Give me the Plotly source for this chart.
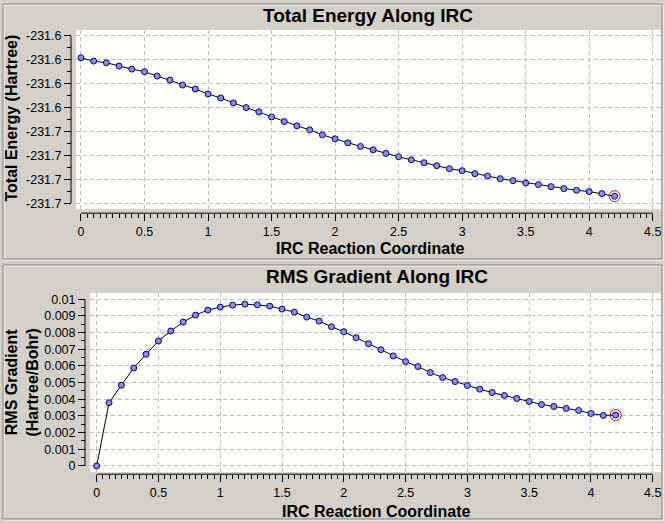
import numpy as np
import plotly.graph_objects as go

# IRC points (reaction coordinate)
irc_coord = [0.0, 0.1, 0.2, 0.3, 0.4, 0.5, 0.6, 0.7, 0.8, 0.9,
             1.0, 1.1, 1.2, 1.3, 1.4, 1.5, 1.6, 1.7, 1.8, 1.9,
             2.0, 2.1, 2.2, 2.3, 2.4, 2.5, 2.6, 2.7, 2.8, 2.9,
             3.0, 3.1, 3.2, 3.3, 3.4, 3.5, 3.6, 3.7, 3.8, 3.9,
             4.0, 4.1, 4.2]

total_energy = [-231.61917, -231.62056, -231.62125, -231.62264, -231.62389,
                -231.62500, -231.62681, -231.62847, -231.63056, -231.63222,
                -231.63431, -231.63597, -231.63806, -231.64000, -231.64181,
                -231.64389, -231.64583, -231.64764, -231.64931, -231.65139,
                -231.65306, -231.65472, -231.65625, -231.65764, -231.65917,
                -231.66056, -231.66181, -231.66306, -231.66431, -231.66556,
                -231.66639, -231.66764, -231.66861, -231.66972, -231.67056,
                -231.67153, -231.67222, -231.67306, -231.67389, -231.67458,
                -231.67514, -231.67597, -231.67708]

rms_gradient = [0.0, 0.003785, 0.004840, 0.005876, 0.006693, 0.007490,
                0.008088, 0.008625, 0.009044, 0.009343, 0.009522, 0.009641,
                0.009701, 0.009661, 0.009582, 0.009402, 0.009223, 0.008924,
                0.008685, 0.008347, 0.008048, 0.007689, 0.007331, 0.006972,
                0.006594, 0.006255, 0.005956, 0.005598, 0.005299, 0.005060,
                0.004821, 0.004602, 0.004402, 0.004223, 0.004044, 0.003865,
                0.003685, 0.003566, 0.003446, 0.003327, 0.003147, 0.003028,
                0.003048]

energy_ticks = [-231.61, -231.62, -231.63, -231.64, -231.65, -231.66, -231.67, -231.68]
energy_tick_labels = ["-231.6", "-231.6", "-231.6", "-231.6",
                      "-231.7", "-231.7", "-231.7", "-231.7"]
grad_ticks = [0.0, 0.001, 0.002, 0.003, 0.004, 0.005, 0.006, 0.007, 0.008, 0.009, 0.01]
grad_tick_labels = ["0", "0.001", "0.002", "0.003", "0.004", "0.005",
                    "0.006", "0.007", "0.008", "0.009", "0.01"]

W, H = 665, 523
FONT = "Arial, Liberation Sans, sans-serif"
BG = "#d4d0c8"


def px(x):
    return x / W


def py(y):
    return 1 - y / H


fig = go.Figure()

line_style = dict(color="black", width=1)
marker_style = dict(size=6, color="#8c8ce6", line=dict(color="#000080", width=1))
ring_style = dict(size=11, symbol="circle-open", color="#cc0000", line=dict(width=1))

fig.add_trace(go.Scatter(x=irc_coord, y=total_energy, mode="lines+markers",
                         line=line_style, marker=marker_style,
                         xaxis="x", yaxis="y"))
fig.add_trace(go.Scatter(x=[irc_coord[-1]], y=[total_energy[-1]], mode="markers",
                         marker=ring_style, xaxis="x", yaxis="y"))
fig.add_trace(go.Scatter(x=irc_coord, y=rms_gradient, mode="lines+markers",
                         line=line_style, marker=marker_style,
                         xaxis="x2", yaxis="y2"))
fig.add_trace(go.Scatter(x=[irc_coord[-1]], y=[rms_gradient[-1]], mode="markers",
                         marker=ring_style, xaxis="x2", yaxis="y2"))

grid = dict(showgrid=True, gridcolor="#bdbdbd", gridwidth=1, griddash="4px,3px",
            zeroline=False, showline=False, ticks="outside", tickcolor="black",
            tickwidth=1, ticklen=7, tickfont=dict(family=FONT, size=12.5, color="black"))
x_minor = dict(tickmode="array", tickvals=list(np.round(np.arange(0, 4.5001, 0.05), 2)),
               ticks="outside", ticklen=4, tickcolor="black", showgrid=False)

fig.update_layout(
    width=W, height=H,
    margin=dict(l=0, r=0, t=0, b=0),
    paper_bgcolor=BG, plot_bgcolor="#fffffc",
    showlegend=False,
    xaxis=dict(grid, domain=[px(76), px(661)], range=[-0.039, 4.565],
               anchor="free", position=py(213), tickmode="linear", tick0=0, dtick=0.5,
               minor=x_minor),
    yaxis=dict(grid, domain=[py(209), py(29)], range=[-231.6825, -231.6075],
               anchor="free", position=px(71), tickmode="array",
               tickvals=energy_ticks, ticktext=energy_tick_labels,
               minor=dict(tickmode="linear", tick0=energy_ticks[0], dtick=0.005,
                          ticks="outside", ticklen=4, tickcolor="black", showgrid=False)),
    xaxis2=dict(grid, domain=[px(90), px(661)], range=[-0.054, 4.567],
                anchor="free", position=py(475), tickmode="linear", tick0=0, dtick=0.5,
                minor=x_minor),
    yaxis2=dict(grid, domain=[py(473), py(293)], range=[-0.000376, 0.010376],
                anchor="free", position=px(85), tickmode="array",
                tickvals=grad_ticks, ticktext=grad_tick_labels,
                minor=dict(tickmode="linear", tick0=0, dtick=0.0005,
                           ticks="outside", ticklen=4, tickcolor="black", showgrid=False)),
)

# panel frames (sunken look)
for y0, y1 in [(3, 259), (265, 520)]:
    fig.add_shape(type="rect", xref="paper", yref="paper", layer="below",
                  x0=px(4), x1=px(663), y0=py(y1 + 1), y1=py(y0 + 1),
                  line=dict(color="white", width=1))
    fig.add_shape(type="rect", xref="paper", yref="paper", layer="below",
                  x0=px(3), x1=px(662), y0=py(y1), y1=py(y0),
                  line=dict(color="#808080", width=1))

# axis spines, only between the end ticks
spine = dict(color="black", width=1)
fig.add_shape(type="line", xref="x", yref="paper", x0=0, x1=4.5,
              y0=py(213), y1=py(213), line=spine)
fig.add_shape(type="line", xref="paper", yref="y", x0=px(71), x1=px(71),
              y0=energy_ticks[0], y1=energy_ticks[-1], line=spine)
fig.add_shape(type="line", xref="x2", yref="paper", x0=0, x1=4.5,
              y0=py(475), y1=py(475), line=spine)
fig.add_shape(type="line", xref="paper", yref="y2", x0=px(85), x1=px(85),
              y0=grad_ticks[0], y1=grad_ticks[-1], line=spine)


def label(text, x, y, size, angle=0):
    fig.add_annotation(text=text, x=px(x), y=py(y), xref="paper", yref="paper",
                       showarrow=False, textangle=angle, xanchor="center", yanchor="middle",
                       font=dict(family=FONT, size=size, color="black"))


label("<b>Total Energy Along IRC</b>", 368, 15, 19)
label("<b>IRC Reaction Coordinate</b>", 370, 248, 16)
label("<b>Total Energy (Hartree)</b>", 12, 118, 16, -90)

label("<b>RMS Gradient Along IRC</b>", 377, 277, 19)
label("<b>IRC Reaction Coordinate</b>", 376, 512, 16)
label("<b>RMS Gradient<br>(Hartree/Bohr)</b>", 22, 383, 16, -90)

# the page body has a default 8px margin; drop it so the figure fills the window
fig.write_html("out.html", config={"displayModeBar": False},
               post_script="document.body.style.margin='0';")
